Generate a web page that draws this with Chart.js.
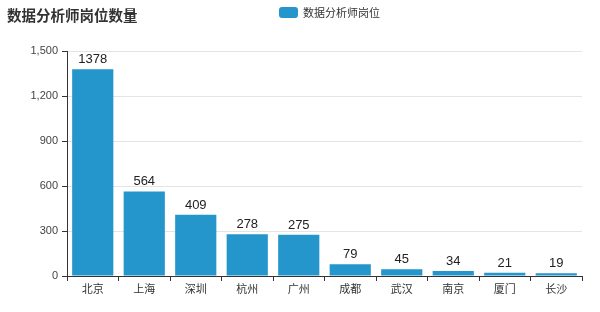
<!DOCTYPE html>
<html>
<head>
<meta charset="utf-8">
<script src="https://cdn.jsdelivr.net/npm/chart.js@4"></script>
<style>
  html, body { margin: 0; padding: 0; background: #fff; }
  #wrap { width: 600px; height: 312px; }
</style>
</head>
<body>
<div id="wrap"><canvas id="jobsChart" width="600" height="312"></canvas></div>
<script>
const cities = ["北京", "上海", "深圳", "杭州", "广州", "成都", "武汉", "南京", "厦门", "长沙"];
const jobCounts = [1378, 564, 409, 278, 275, 79, 45, 34, 21, 19];
const yTicks = [0, 300, 600, 900, 1200, 1500];
const chartTitle = "数据分析师岗位数量";
const seriesName = "数据分析师岗位";

const FONT = '"Liberation Sans", "Noto Sans CJK SC", sans-serif';
const BAR_COLOR = "#2596cc";

// title, legend and value labels drawn on the canvas
const extras = {
    id: "extras",
    afterDatasetsDraw(chart) {
        const ctx = chart.ctx;
        ctx.save();
        ctx.fillStyle = "#222";
        ctx.font = "13px " + FONT;
        ctx.textAlign = "center";
        ctx.textBaseline = "bottom";
        chart.getDatasetMeta(0).data.forEach((bar, i) => {
            ctx.fillText(jobCounts[i], bar.x, bar.y - 3);
        });
        ctx.restore();
    },
    afterDraw(chart) {
        const ctx = chart.ctx;
        ctx.save();
        ctx.fillStyle = "#333";
        ctx.font = 'bold 14.5px "Noto Sans CJK SC", sans-serif';
        ctx.textBaseline = "middle";
        ctx.textAlign = "left";
        ctx.fillText(chartTitle, 7, 15);

        ctx.fillStyle = BAR_COLOR;
        ctx.beginPath();
        ctx.roundRect(279, 7, 19, 11, 3);
        ctx.fill();
        ctx.fillStyle = "#333";
        ctx.font = '11px "Noto Sans CJK SC", sans-serif';
        ctx.fillText(seriesName, 303, 13);
        ctx.restore();
    }
};

new Chart(document.getElementById("jobsChart"), {
    type: "bar",
    data: {
        labels: cities,
        datasets: [{
            label: seriesName,
            data: jobCounts,
            backgroundColor: BAR_COLOR,
            barPercentage: 0.8,
            categoryPercentage: 1.0
        }]
    },
    options: {
        responsive: false,
        animation: false,
        layout: { padding: { left: 0, right: 18, top: 51, bottom: 0 } },
        plugins: {
            legend: { display: false },
            title: { display: false },
            tooltip: { enabled: false }
        },
        scales: {
            x: {
                offset: true,
                grid: {
                    offset: true,
                    drawOnChartArea: false,
                    tickLength: 5,
                    tickColor: "#333"
                },
                border: { color: "#333" },
                ticks: {
                    color: "#333",
                    padding: 1,
                    font: { size: 11, family: '"Noto Sans CJK SC", sans-serif' }
                },
                afterFit(axis) { axis.height = 36; }
            },
            y: {
                min: 0,
                max: 1500,
                afterBuildTicks(axis) { axis.ticks = yTicks.map(v => ({ value: v })); },
                grid: {
                    color: "#e4e4e4",
                    tickLength: 5,
                    tickColor: "#333"
                },
                border: { color: "#333" },
                ticks: {
                    color: "#444",
                    padding: 4,
                    font: { size: 11, family: FONT },
                    callback: v => v.toLocaleString("en-US")
                },
                afterFit(axis) { axis.width = 67; }
            }
        }
    },
    plugins: [extras]
});
</script>
</body>
</html>
